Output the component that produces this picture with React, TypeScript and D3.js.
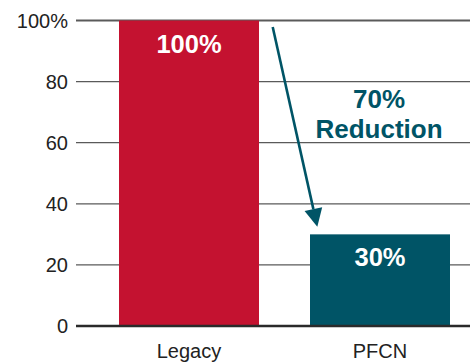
import React from "react";
import * as d3 from "d3";

const categories = ["Legacy", "PFCN"];
const values = [100, 30];
const valueLabels = ["100%", "30%"];
const tickValues = [0, 20, 40, 60, 80, 100];
const tickLabels = ["0", "20", "40", "60", "80", "100%"];
const barColors = ["#C41230", "#005466"];
const annotation = ["70%", "Reduction"];

export default function App() {
  const W = 470, H = 362;
  const y = d3.scaleLinear().domain([0, 100]).range([326, 20.5]);
  const x = d3.scalePoint().domain(categories).range([189, 380]);
  const bw = 140;
  const cx = (c: string) => x(c) as number;
  const font = "'Liberation Sans', Arial, sans-serif";
  const teal = "#005466";
  const ax1 = 272.7, ay1 = 27;
  const ax2 = 317.3, ay2 = 226.7;
  const ang = Math.atan2(ay2 - ay1, ax2 - ax1);
  const headLen = 18, headW = 9;
  const bx = ax2 - headLen * Math.cos(ang), by = ay2 - headLen * Math.sin(ang);
  const px = -Math.sin(ang), py = Math.cos(ang);
  return (
    <svg width={W} height={H} style={{ position: "absolute", left: 0, top: 0, background: "#fff" }}>
      {tickValues.filter(t => t > 0).map(t => (
        <line key={t} x1={76} x2={470} y1={y(t)} y2={y(t)} stroke="#5a5a5a" strokeWidth={t === 100 ? 1.8 : 1.3} />
      ))}
      {categories.map((c, i) => (
        <rect key={c} x={cx(c) - bw / 2} width={bw} y={y(values[i])} height={y(0) - y(values[i])} fill={barColors[i]} />
      ))}
      <line x1={76} x2={470} y1={y(0)} y2={y(0)} stroke="#2a2a2a" strokeWidth={2.6} />
      {tickValues.map((t, i) => (
        <text key={t} x={68} y={y(t)} dy={7} textAnchor="end" fontFamily={font} fontSize={20} fill="#222">{tickLabels[i]}</text>
      ))}
      {categories.map((c) => (
        <text key={c + "l"} x={cx(c)} y={357.5} textAnchor="middle" fontFamily={font} fontSize={20} fill="#222">{c}</text>
      ))}
      {categories.map((c, i) => (
        <text key={c + "v"} x={cx(c)} y={y(values[i]) + 32} textAnchor="middle" fontFamily={font} fontSize={25.5} fontWeight="bold" fill="#fff">{valueLabels[i]}</text>
      ))}
      <line x1={ax1} y1={ay1} x2={bx} y2={by} stroke={teal} strokeWidth={2.6} />
      <polygon points={`${ax2},${ay2} ${bx + px * headW},${by + py * headW} ${bx - px * headW},${by - py * headW}`} fill={teal} />
      <text x={379} y={108} textAnchor="middle" fontFamily={font} fontSize={26} fontWeight="bold" fill={teal}>{annotation[0]}</text>
      <text x={379} y={138} textAnchor="middle" fontFamily={font} fontSize={26} fontWeight="bold" fill={teal}>{annotation[1]}</text>
    </svg>
  );
}
